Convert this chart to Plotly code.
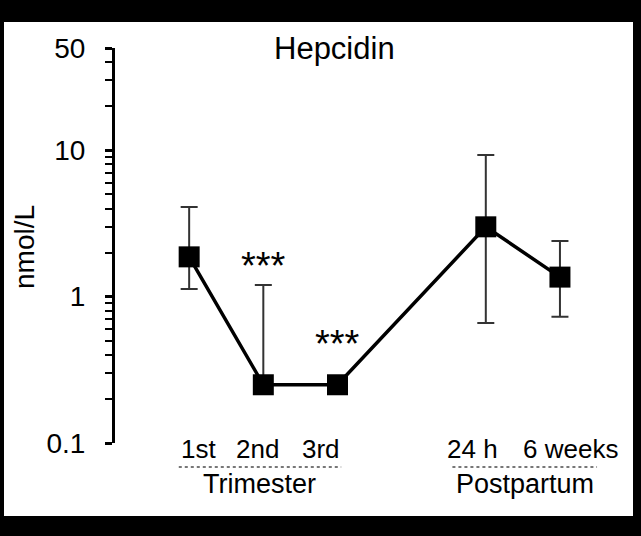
import math
import plotly.graph_objects as go

# ---- data ----
categories = ["1st", "2nd", "3rd", "24 h", "6 weeks"]
x_pos = [1, 2, 3, 5, 6]
hepcidin = [1.87, 0.25, 0.25, 3.0, 1.36]
err_upper = [4.1, 1.2, 0.25, 9.3, 2.4]      # upper whisker end (nmol/L)
err_lower = [1.13, 0.25, 0.25, 0.66, 0.73]  # lower whisker end (nmol/L)
sig_labels = ["***", "***"]
sig_x = [2, 3]
sig_y = [1.75, 0.51]
groups = ["Trimester", "Postpartum"]
group_span = [(0.86, 3.05), (4.55, 6.5)]
y_tickvals = [0.1, 1, 10, 50]
y_ticktext = ["0.1", "1", "10", "50"]
y_minor = [0.2, 0.3, 0.4, 0.5, 0.6, 0.7, 0.8, 0.9,
           2, 3, 4, 5, 6, 7, 8, 9, 20, 30, 40]

# label placement offsets (style, px)
cat_xshift = [9, -6, -16, -13, 11]

W, H = 641, 536
ML, MR, MT, MB = 115, 41, 48, 93
PW, PH = W - ML - MR, H - MT - MB

def px2paperx(px):
    return (px - ML) / PW

def px2papery(py):
    return (H - MB - py) / PH

plus = [u - v for u, v in zip(err_upper, hepcidin)]
minus = [v - l for v, l in zip(hepcidin, err_lower)]

fig = go.Figure()
fig.add_trace(go.Scatter(
    x=x_pos, y=hepcidin, mode="lines+markers",
    line=dict(color="black", width=3.5),
    marker=dict(symbol="square", size=21, color="black"),
    error_y=dict(type="data", symmetric=False, array=plus, arrayminus=minus,
                 color="#333333", thickness=2, width=8.5),
    showlegend=False, hoverinfo="skip",
))

FONT = "Liberation Sans, Arial, sans-serif"

annotations = []
for t, xx, yy in zip(sig_labels, sig_x, sig_y):
    annotations.append(dict(x=xx, y=math.log10(yy), xref="x", yref="y", text=t,
                            showarrow=False, xanchor="center", yanchor="middle",
                            font=dict(size=38, color="black", family=FONT),
                            yshift=-5))
for c, xx, sh in zip(categories, x_pos, cat_xshift):
    annotations.append(dict(x=xx, y=px2papery(449), xref="x", yref="paper", text=c,
                            showarrow=False, xanchor="center", yanchor="middle",
                            xshift=sh, font=dict(size=26, color="black", family=FONT)))
shapes = [dict(type="rect", xref="paper", yref="paper",
               x0=px2paperx(4), x1=px2paperx(633), y0=px2papery(516), y1=px2papery(22),
               fillcolor="white", line=dict(width=0), layer="below")]
for g, (a, b) in zip(groups, group_span):
    shapes.append(dict(type="line", xref="x", yref="paper", x0=a, x1=b,
                       y0=px2papery(467), y1=px2papery(467),
                       line=dict(color="#777777", width=2, dash="dot")))
    annotations.append(dict(x=(a + b) / 2, y=px2papery(484), xref="x", yref="paper",
                            text=g, showarrow=False, xanchor="center", yanchor="middle",
                            font=dict(size=27, color="black", family=FONT)))
annotations.append(dict(x=px2paperx(24), y=px2papery(247), xref="paper", yref="paper",
                        text="nmol/L", textangle=-90, showarrow=False,
                        xanchor="center", yanchor="middle",
                        font=dict(size=28, color="black", family=FONT)))
annotations.append(dict(x=px2paperx(334), y=px2papery(48), xref="paper", yref="paper",
                        text="Hepcidin", showarrow=False, xanchor="center", yanchor="middle",
                        font=dict(size=31, color="black", family=FONT)))

fig.update_layout(
    width=W, height=H,
    margin=dict(l=ML, r=MR, t=MT, b=MB),
    paper_bgcolor="black", plot_bgcolor="white",
    font=dict(family=FONT, color="black"),
    shapes=shapes, annotations=annotations,
    hovermode=False,
    xaxis=dict(range=[0, 6.54], tickvals=x_pos, showticklabels=False,
               showline=False, zeroline=False, showgrid=False, ticks=""),
    yaxis=dict(type="log", range=[-1, math.log10(50)],
               tickvals=y_tickvals, ticktext=y_ticktext,
               showline=True, linecolor="black", linewidth=3,
               ticks="outside", ticklen=7, tickwidth=2.5, tickcolor="black",
               minor=dict(ticks="outside", ticklen=7, tickwidth=2, tickcolor="black",
                          tickvals=y_minor, showgrid=False),
               showgrid=False, zeroline=False,
               tickfont=dict(size=28, color="black"), ticklabelstandoff=14),
)

fig.write_html("out.html", config={"displayModeBar": False},
               post_script="document.body.style.margin='0';document.body.style.background='black';")
